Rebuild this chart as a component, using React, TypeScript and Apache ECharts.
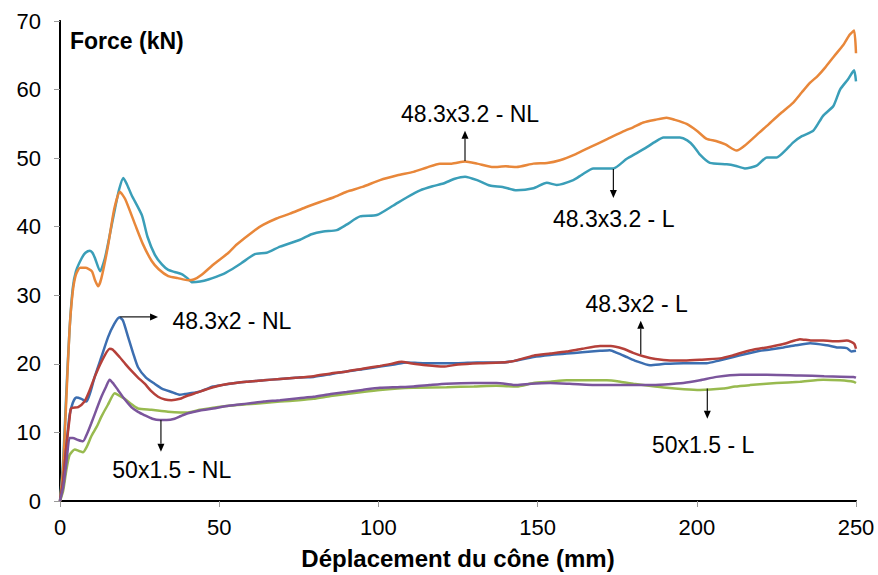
import React, { useEffect, useRef } from 'react';
import * as echarts from 'echarts';

const xTickValues = [0, 50, 100, 150, 200, 250];
const yTickValues = [0, 10, 20, 30, 40, 50, 60, 70];

const names = ['48.3x3.2 - L', '48.3x3.2 - NL', '48.3x2 - NL', '48.3x2 - L', '50x1.5 - L', '50x1.5 - NL'];

const tube48_32_NL = [
  [0, 0], [1, 5], [2, 15], [3, 25], [4, 30.5], [5, 33], [6.3, 34], [8, 34], [10, 33.5], [11, 32.2], [12, 31.3], [13, 32.5],
  [15, 37], [17, 42.5], [18.8, 45.1], [20.5, 44], [23.6, 40.3], [26, 37.5], [28.8, 35], [31, 33.8], [34, 32.8], [37, 32.5],
  [40.3, 32.2], [42, 32.3], [44.5, 33], [48.2, 34.5], [52.9, 36.2], [55.5, 37.4], [61.2, 39.5], [63.9, 40.3], [68, 41.2],
  [72.2, 41.9], [77, 42.8], [81.7, 43.6], [86, 44.3], [90, 45.1], [95, 45.8], [100.5, 46.8], [106, 47.5], [111, 48],
  [115, 48.6], [119.3, 49.2], [123, 49.2], [127.2, 49.5], [131, 49.2], [136.1, 48.7], [140, 48.8], [143.4, 48.7],
  [148.7, 49.2], [153, 49.3], [157, 49.7], [162, 50.6], [166.5, 51.6], [172, 52.8], [176.9, 53.9], [180, 54.5],
  [183.2, 55.2], [187, 55.6], [190.5, 55.9], [193, 55.6], [196.8, 55], [200, 54], [203.1, 52.8], [206, 52.5], [209, 52],
  [212.5, 51.1], [215, 51.8], [219.8, 53.8], [222, 54.7], [226, 56.4], [230.3, 58.1], [233, 59.6], [235.6, 61], [238, 62],
  [240.3, 63.2], [243, 64.8], [246, 66.5], [248, 68], [249.4, 68.6], [250, 65.3]
];

const tube48_32_L = [
  [0, 0], [1, 6], [2, 16], [3, 25], [4, 31], [5, 33.5], [6.8, 35.4], [8, 36.2], [9.4, 36.5], [10.2, 36.2], [11, 35.4],
  [12.6, 33.5], [14.1, 35.4], [15.5, 38.5], [17.3, 42.7], [18.6, 45.5], [19.9, 47.1], [21, 46.2], [22.5, 44.6],
  [25.7, 41.7], [27.5, 38.5], [29.8, 35.9], [32, 34.5], [34, 33.7], [36, 33.4], [38.2, 33.1], [40, 32.5], [41.4, 31.9],
  [44, 32], [46.6, 32.3], [50.8, 33], [54, 33.8], [57, 34.7], [61.2, 36], [64.9, 36.2], [69.1, 37.1], [75.4, 38.1],
  [79, 38.9], [82.7, 39.3], [86.9, 39.5], [90, 40.3], [94.2, 41.5], [99.5, 41.7], [104.7, 43.1], [109, 44.3],
  [113.1, 45.3], [117, 45.9], [120.4, 46.3], [124, 47], [127.2, 47.3], [131, 46.8], [135, 46], [139, 45.8],
  [143.4, 45.3], [148.7, 45.6], [152.9, 46.4], [156, 46.1], [161.2, 46.8], [164, 47.6], [167.5, 48.5], [173.8, 48.5],
  [178, 49.9], [181, 50.7], [184.3, 51.6], [187, 52.4], [189.5, 53], [194.7, 53], [197, 52.6], [198.9, 51.8],
  [201, 50.5], [204.1, 49.3], [209.4, 49.1], [212, 48.9], [215.1, 48.5], [218.8, 48.9], [222, 50.1], [225.1, 50.1],
  [228, 51.2], [230.3, 52.3], [233, 53.2], [236.6, 54], [239.7, 56.2], [242.9, 57.6], [245, 60], [247.5, 61.5],
  [249.4, 62.8], [250, 61.2]
];

const tube48_2_NL = [
  [0, 0], [1, 3], [2, 8], [3, 12.5], [4, 14.3], [5.1, 15.1], [6.7, 14.9], [8.3, 14.5], [9.5, 15.8], [10.9, 18.1],
  [13, 21], [15.1, 23.9], [17, 25.8], [18.7, 26.8], [19.8, 26.3], [21.4, 23.9], [23, 21.5], [24.5, 19.5], [27, 18],
  [29.7, 17.1], [32, 16.4], [35, 15.9], [37.5, 15.5], [39.2, 15.6], [43.4, 15.9], [48.1, 16.7], [50.8, 16.9],
  [55, 17.2], [58.6, 17.4], [64, 17.6], [69.1, 17.8], [75, 18], [79.6, 18.1], [85, 18.5], [90, 18.9], [95, 19.2],
  [100.5, 19.6], [105, 19.9], [108.9, 20.2], [114, 20.1], [119.3, 20.1], [125, 20.1], [131, 20.2], [138.2, 20.2],
  [142.4, 20.4], [148.7, 21], [154, 21.3], [159.1, 21.5], [164, 21.7], [169.6, 21.9], [172.7, 22], [175, 21.6],
  [178, 21], [181, 20.4], [185.3, 19.8], [190, 20], [195.8, 20.1], [203.1, 20.1], [207, 20.5], [211.5, 21],
  [215, 21.4], [219.8, 21.9], [223, 22.1], [227.2, 22.4], [231, 22.7], [235.6, 23], [240.8, 22.7], [244, 22.4],
  [247.1, 22.3], [248.5, 21.8], [250, 21.9]
];

const tube48_2_L = [
  [0, 0], [1, 3], [2, 8], [3, 12], [3.5, 13.5], [5.7, 13.7], [7.7, 14.5], [9.2, 16], [10.9, 18.1], [13, 20.3],
  [15.6, 22.2], [16.5, 22.1], [18.7, 21], [20.5, 20], [22.4, 19], [24.5, 18], [26.6, 17.1], [28.5, 16.1],
  [30.8, 15.2], [33, 14.8], [35, 14.7], [37.7, 14.9], [39.2, 15.2], [43, 15.8], [48.1, 16.6], [53, 17.1],
  [58.6, 17.4], [64, 17.6], [69.1, 17.8], [75, 18], [79.6, 18.2], [85, 18.6], [90, 18.9], [95, 19.3], [100.5, 19.7],
  [104, 20], [107.3, 20.3], [110, 20.1], [115, 19.8], [120.4, 19.6], [125, 19.9], [131.9, 20.1], [138.2, 20.2],
  [142.4, 20.4], [148.7, 21.2], [154, 21.5], [159.1, 21.8], [164, 22.2], [169.6, 22.6], [173, 22.6], [176.9, 22.2],
  [180, 21.6], [183.2, 21.1], [187, 20.7], [191.6, 20.5], [196, 20.5], [201, 20.6], [207.3, 20.8], [211, 21.2],
  [214.6, 21.7], [218, 22.1], [222, 22.4], [227.2, 22.9], [230, 23.3], [232.4, 23.6], [236, 23.4], [239.7, 23.4],
  [244, 23.3], [247.1, 23.4], [248.5, 23.2], [249.5, 22.9], [250, 22.2]
];

const tube50_15_NL = [
  [0, 0], [1, 2], [2, 5.5], [3, 9.2], [4, 9.2], [5.7, 8.9], [7.2, 8.7], [8.5, 9.8], [9.8, 11.3], [11.5, 13.4],
  [13, 15.2], [14.5, 16.7], [15.6, 17.7], [16.8, 17.1], [18.2, 16.2], [20.2, 14.9], [22.4, 13.7], [24.5, 13],
  [26.6, 12.5], [29, 12], [31.3, 11.8], [33.5, 11.8], [36, 12], [38, 12.4], [40.2, 12.8], [44, 13.2], [48.1, 13.5],
  [53, 13.9], [58.6, 14.2], [64, 14.5], [69.1, 14.7], [75, 15], [79.6, 15.2], [85, 15.6], [90, 15.9], [95, 16.2],
  [100.5, 16.5], [106, 16.6], [111, 16.7], [116, 16.9], [121.4, 17.1], [130, 17.2], [137.1, 17.2], [143.4, 16.9],
  [148, 17.1], [154, 17.2], [160, 17.1], [169.6, 16.9], [177, 16.9], [185.3, 16.9], [190, 17], [195.8, 17.2],
  [201, 17.6], [206.2, 18.1], [213.6, 18.4], [222, 18.4], [232.4, 18.3], [240, 18.2], [249.2, 18.1], [250, 18]
];

const tube50_15_L = [
  [0, 0], [1, 1.5], [2, 4.5], [3, 6.7], [4.6, 7.5], [6, 7.3], [7.2, 7.1], [8.5, 8], [9.8, 9.4], [11.5, 10.8],
  [13, 12.3], [15, 14], [17.2, 15.7], [18.5, 15.4], [20.3, 14.9], [22.5, 14.1], [24.5, 13.5], [28.7, 13.3],
  [33.9, 13], [37.7, 12.9], [40.2, 12.9], [44, 13.3], [48.1, 13.6], [53, 13.9], [58.6, 14.1], [64, 14.3],
  [69.1, 14.5], [75, 14.7], [79.6, 14.9], [85, 15.3], [90, 15.6], [95, 15.9], [100.5, 16.2], [106, 16.4], [111, 16.5],
  [121.4, 16.6], [130, 16.7], [137.1, 16.8], [143.4, 16.7], [148.7, 17.2], [154, 17.4], [159.1, 17.6], [165, 17.6],
  [171.7, 17.6], [176, 17.4], [180.1, 17.1], [185, 16.8], [190.5, 16.5], [196, 16.3], [201, 16.2], [208.3, 16.4],
  [212, 16.7], [216.7, 16.9], [225, 17.2], [232.4, 17.4], [239.7, 17.7], [245, 17.6], [249.2, 17.4], [250, 17.2]
];

const seriesData = [tube48_32_L, tube48_32_NL, tube48_2_NL, tube48_2_L, tube50_15_L, tube50_15_NL];
const seriesColors = ['#3A9EB8', '#E8873A', '#3C6EB0', '#B5403A', '#98BA4F', '#7B559C'];

// annotation label, arrow start (on curve), arrow tip, text anchor (data coords)
const annotationLabels = ['48.3x3.2 - NL', '48.3x3.2 - L', '48.3x2 - NL', '48.3x2 - L', '50x1.5 - NL', '50x1.5 - L'];
const annotationFrom = [[127.2, 49.6], [173.8, 48.4], [18.9, 26.85], [182.4, 21.4], [31.7, 11.8], [203.3, 16.4]];
const annotationTo = [[127.2, 54.0], [173.8, 44.2], [30.8, 26.85], [182.4, 26.3], [31.7, 7.2], [203.3, 12.0]];
const annotationText = [[128.8, 56.5], [173.9, 41.1], [35.3, 26.25], [181.1, 28.8], [35.1, 4.5], [202.0, 8.2]];
const annotationAlign = ['center', 'center', 'left', 'center', 'center', 'center'];

const FONT = '"Liberation Sans", Arial, sans-serif';

export default function App() {
  const ref = useRef<HTMLDivElement>(null);
  useEffect(() => {
    const chart = echarts.init(ref.current!, null, { renderer: 'svg' });
    const grid = { left: 60, right: 22, top: 21, bottom: 70 };
    chart.setOption({
      animation: false,
      backgroundColor: '#ffffff',
      grid,
      xAxis: [
        {
          type: 'value', min: xTickValues[0], max: xTickValues[xTickValues.length - 1], interval: 50,
          axisLine: { show: true, lineStyle: { color: '#5a5a5a', width: 2 } },
          axisTick: { show: true, inside: false, length: 6, lineStyle: { color: '#9a9a9a', width: 1 } },
          axisLabel: { color: '#000', fontSize: 22, fontFamily: FONT, margin: 15 },
          splitLine: { show: false },
          name: 'Déplacement du cône (mm)', nameLocation: 'middle', nameGap: 45,
          nameTextStyle: { color: '#000', fontSize: 24, fontWeight: 'bold', fontFamily: FONT },
        },
        {
          type: 'value', position: 'top', min: 0, max: 250,
          axisLine: { show: true, lineStyle: { color: '#000', width: 2 } },
          axisTick: { show: false }, axisLabel: { show: false }, splitLine: { show: false },
        },
      ],
      yAxis: [
        {
          type: 'value', min: yTickValues[0], max: yTickValues[yTickValues.length - 1], interval: 10,
          axisLine: { show: true, lineStyle: { color: '#5a5a5a', width: 2 } },
          axisTick: { show: true, inside: false, length: 6, lineStyle: { color: '#9a9a9a', width: 1 } },
          axisLabel: { color: '#000', fontSize: 22, fontFamily: FONT, margin: 19 },
          splitLine: { show: false },
        },
        {
          type: 'value', position: 'right', min: 0, max: 70,
          axisLine: { show: true, lineStyle: { color: '#000', width: 2 } },
          axisTick: { show: false }, axisLabel: { show: false }, splitLine: { show: false },
        },
      ],
      series: seriesData.map((d, i) => ({
        name: names[i],
        type: 'line',
        xAxisIndex: 0,
        yAxisIndex: 0,
        data: d,
        showSymbol: false,
        symbol: 'none',
        smooth: 0.2,
        lineStyle: { color: seriesColors[i], width: 2.5 },
        itemStyle: { color: seriesColors[i] },
        z: 3,
      })),
    });

    const graphics: any[] = [
      {
        type: 'text', left: 70, top: 29, z: 10,
        style: { text: 'Force (kN)', fill: '#000', font: `bold 23px ${FONT}` },
      },
    ];
    annotationLabels.forEach((label, i) => {
      const p0 = chart.convertToPixel({ xAxisIndex: 0, yAxisIndex: 0 }, annotationFrom[i]) as number[];
      const p1 = chart.convertToPixel({ xAxisIndex: 0, yAxisIndex: 0 }, annotationTo[i]) as number[];
      const pt = chart.convertToPixel({ xAxisIndex: 0, yAxisIndex: 0 }, annotationText[i]) as number[];
      const dx = p1[0] - p0[0];
      const dy = p1[1] - p0[1];
      const len = Math.sqrt(dx * dx + dy * dy) || 1;
      const ux = dx / len, uy = dy / len;
      const headLen = 8, headW = 3.5;
      const bx = p1[0] - ux * headLen, by = p1[1] - uy * headLen;
      graphics.push({
        type: 'line', z: 10,
        shape: { x1: p0[0], y1: p0[1], x2: bx, y2: by },
        style: { stroke: '#111', lineWidth: 1.2 },
      });
      graphics.push({
        type: 'polygon', z: 10,
        shape: { points: [[p1[0], p1[1]], [bx - uy * headW, by + ux * headW], [bx + uy * headW, by - ux * headW]] },
        style: { fill: '#000' },
      });
      graphics.push({
        type: 'text', z: 10, x: pt[0], y: pt[1],
        style: {
          text: label, fill: '#000', font: `23px ${FONT}`,
          align: annotationAlign[i], verticalAlign: 'middle',
        },
      });
    });
    chart.setOption({ graphic: graphics });

    return () => chart.dispose();
  }, []);
  return <div ref={ref} style={{ position: 'fixed', left: 0, top: 0, width: 878, height: 575 }} />;
}
